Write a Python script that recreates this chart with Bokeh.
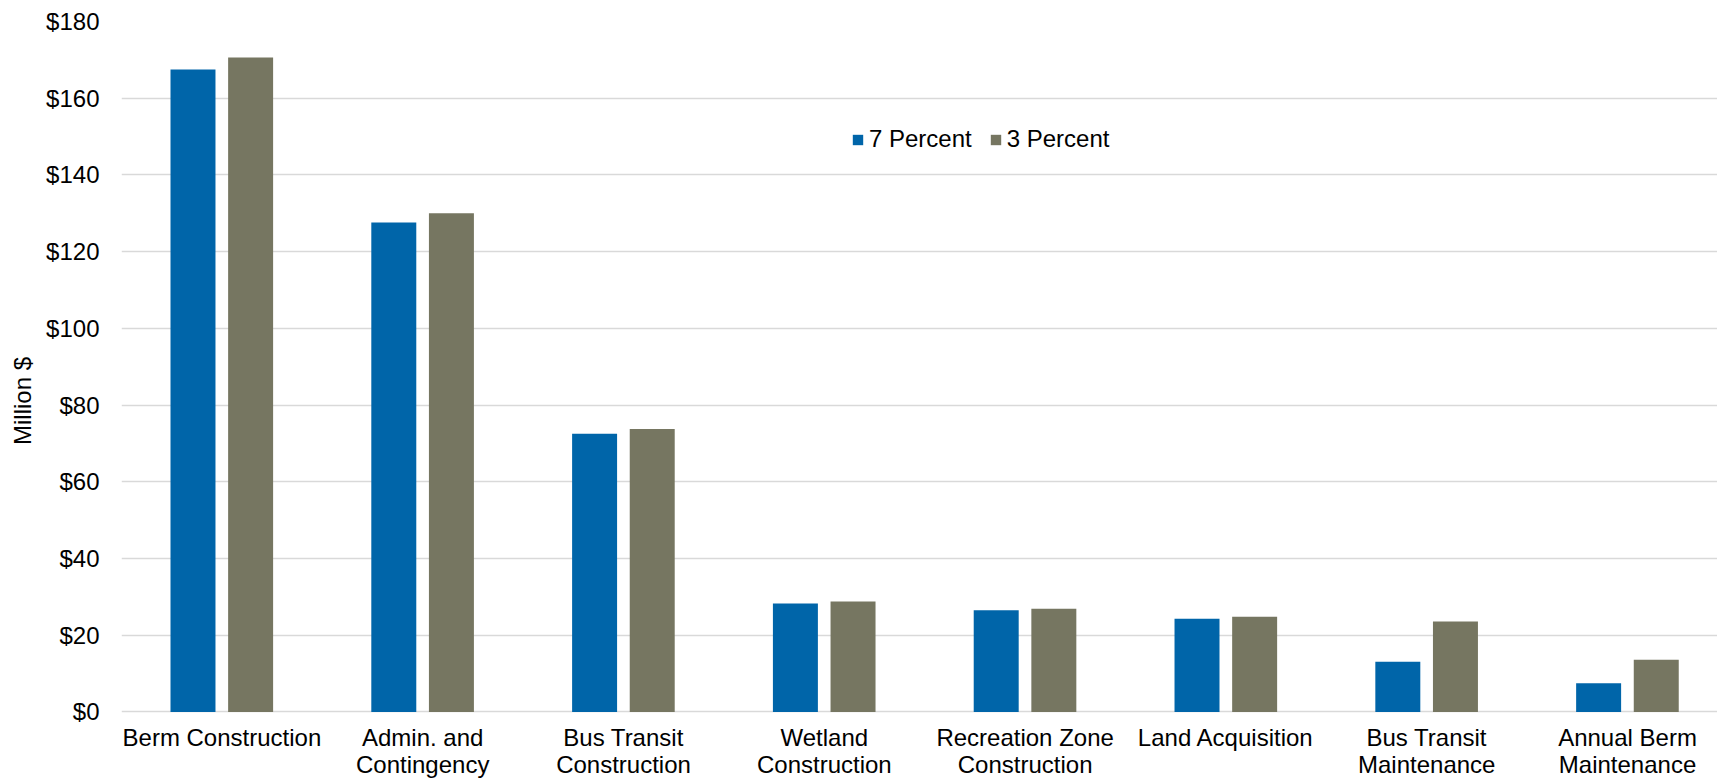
from bokeh.plotting import figure
from bokeh.models import ColumnDataSource, FixedTicker, PrintfTickFormatter, Range1d, Legend, LegendItem
from bokeh.core.properties import value
from bokeh.transform import dodge
from bokeh.embed import file_html
from bokeh.resources import INLINE

# Cost components (million $) under two discount rates
categories = [
    "Berm Construction",
    "Admin. and\nContingency",
    "Bus Transit\nConstruction",
    "Wetland\nConstruction",
    "Recreation Zone\nConstruction",
    "Land Acquisition",
    "Bus Transit\nMaintenance",
    "Annual Berm\nMaintenance",
]
seven_percent = [167.5, 127.6, 72.5, 28.3, 26.5, 24.3, 13.1, 7.5]
three_percent = [170.6, 130.0, 73.8, 28.8, 26.9, 24.8, 23.6, 13.6]
y_ticks = [0, 20, 40, 60, 80, 100, 120, 140, 160, 180]

FONT = "Liberation Sans"
FONT_SIZE = "24px"
BLUE = "#0065A9"
GRAY = "#767661"

source = ColumnDataSource(dict(
    x=list(range(len(categories))),
    label=categories,
    seven=seven_percent,
    three=three_percent,
))

# The band below zero holds the category captions
p = figure(
    width=1717, height=780,
    x_range=Range1d(-0.5, 7.448), y_range=Range1d(-17.86, 180),
    output_backend="svg", toolbar_location=None,
    min_border_left=121, min_border_right=0, min_border_top=21, min_border_bottom=0,
)
p.outline_line_color = None
p.background_fill_color = "white"
p.border_fill_color = "white"

r7 = p.vbar(x=dodge("x", -0.144, range=p.x_range), top="seven", width=0.224,
            source=source, fill_color=BLUE, line_color=None)
r3 = p.vbar(x=dodge("x", 0.143, range=p.x_range), top="three", width=0.224,
            source=source, fill_color=GRAY, line_color=None)

# Category captions under the baseline
p.text(x="x", y=-3.2, text="label", source=source,
       text_font=value(FONT), text_font_size=value(FONT_SIZE), text_color="black",
       text_align="center", text_baseline="top", text_line_height=1.0)

p.xaxis.visible = False

p.yaxis.ticker = FixedTicker(ticks=y_ticks)
p.yaxis.formatter = PrintfTickFormatter(format="$%d")
p.yaxis.axis_line_color = None
p.yaxis.major_tick_line_color = None
p.yaxis.minor_tick_line_color = None
p.yaxis.major_label_text_font = FONT
p.yaxis.major_label_text_font_size = FONT_SIZE
p.yaxis.major_label_text_color = "black"
p.yaxis.major_label_standoff = 16
p.yaxis.axis_label = "Million $"
p.yaxis.axis_label_text_font = FONT
p.yaxis.axis_label_text_font_size = FONT_SIZE
p.yaxis.axis_label_text_font_style = "normal"
p.yaxis.axis_label_text_color = "black"
p.yaxis.axis_label_standoff = 7

p.xgrid.grid_line_color = None
p.ygrid.grid_line_color = "#D9D9D9"
p.ygrid.grid_line_width = 1.5

legend = Legend(
    items=[LegendItem(label="7 Percent", renderers=[r7]),
           LegendItem(label="3 Percent", renderers=[r3])],
    orientation="horizontal",
    location=(730, 627),
    padding=0, margin=0, spacing=17,
    glyph_width=13, glyph_height=13, label_standoff=5,
    label_text_font=FONT, label_text_font_size=FONT_SIZE, label_text_color="black",
    border_line_color=None, background_fill_alpha=0,
)
p.add_layout(legend, "center")

open("out.html", "w").write(file_html(p, INLINE))
